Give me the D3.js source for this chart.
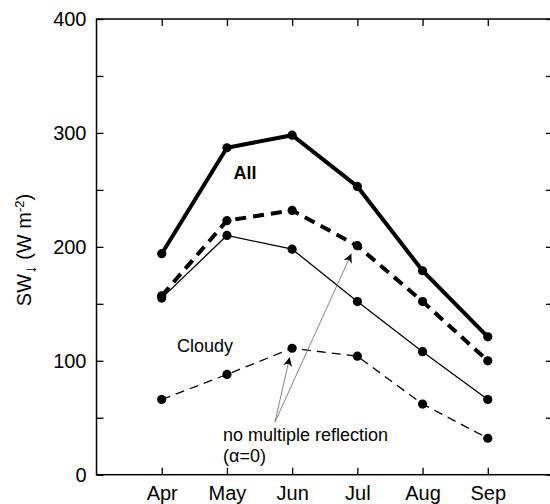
<!DOCTYPE html>
<html><head><meta charset="utf-8">
<script src="https://cdn.jsdelivr.net/npm/d3@7"></script>
<style>body{margin:0;background:#fff}svg{display:block;font-family:"Liberation Sans",Arial,sans-serif}</style>
</head><body>
<svg id="c" width="550" height="504"></svg>
<script>
const months = ["Apr","May","Jun","Jul","Aug","Sep"];
const allSky = [194, 287, 298, 253, 179, 121];
const allSkyNoMR = [157, 223, 232, 201, 152, 100];
const cloudy = [155, 210, 198, 152, 108, 66];
const cloudyNoMR = [66, 88, 111, 104, 62, 32];
const yTicks = [0, 100, 200, 300, 400];
const yMinor = [50, 150, 250, 350];

const svg = d3.select("#c");
const L = 96.5, R = 553, T = 19, B = 474.7;
const x = d3.scaleLinear().domain([0, 7]).range([L, R]);
const y = d3.scaleLinear().domain([0, 400]).range([B, T]);
const xi = (d, i) => x(i + 1);

// frame
svg.append("rect").attr("x", L).attr("y", T).attr("width", R - L).attr("height", B - T)
  .attr("fill", "none").attr("stroke", "#000").attr("stroke-width", 1.5);

const g = svg.append("g");
// axes
const idx = months.map((m, i) => i + 1);
svg.append("g").attr("transform", `translate(${L},0)`)
  .call(d3.axisLeft(y).tickValues(yTicks).tickSizeInner(-7).tickSizeOuter(0).tickPadding(10));
svg.append("g").attr("transform", `translate(${L},0)`)
  .call(d3.axisLeft(y).tickValues(yMinor).tickSizeInner(-7).tickSizeOuter(0).tickFormat(""));
svg.append("g").attr("transform", `translate(${R},0)`)
  .call(d3.axisRight(y).tickValues(yTicks.concat(yMinor)).tickSizeInner(-7).tickSizeOuter(0).tickFormat(""));
svg.append("g").attr("transform", `translate(0,${B})`)
  .call(d3.axisBottom(x).tickValues(idx).tickSizeInner(-7).tickSizeOuter(0).tickPadding(11).tickFormat(i => months[i - 1]));
svg.append("g").attr("transform", `translate(0,${T})`)
  .call(d3.axisTop(x).tickValues(idx).tickSizeInner(-7).tickSizeOuter(0).tickFormat(""));
svg.selectAll(".domain").remove();
svg.selectAll(".tick line").attr("stroke", "#000").attr("stroke-width", 1.3);
svg.selectAll(".tick text").attr("font-size", 20).attr("font-family", "Liberation Sans, Arial, sans-serif").attr("fill", "#000");

// series
const line = d3.line().x(xi).y(d => y(d));
const series = [
  {v: cloudyNoMR, w: 1.3, dash: "9,6"},
  {v: cloudy, w: 1.3, dash: null},
  {v: allSkyNoMR, w: 4, dash: "11,7"},
  {v: allSky, w: 4, dash: null}
];
series.forEach(s => {
  g.append("path").attr("d", line(s.v)).attr("fill", "none").attr("stroke", "#000")
    .attr("stroke-width", s.w).attr("stroke-dasharray", s.dash);
  g.selectAll(null).data(s.v).enter().append("circle")
    .attr("cx", xi).attr("cy", d => y(d)).attr("r", 4.6).attr("fill", "#000");
});

// labels
svg.append("text").attr("x", 245).attr("y", 178.5).attr("text-anchor", "middle")
  .attr("font-size", 18).attr("font-weight", "bold").text("All");
svg.append("text").attr("x", 177).attr("y", 352)
  .attr("font-size", 18).text("Cloudy");
svg.append("text").attr("x", 223).attr("y", 440.5).attr("font-size", 18).text("no multiple reflection");
svg.append("text").attr("x", 223).attr("y", 461.5).attr("font-size", 18).text("(α=0)");

// arrows
const defs = svg.append("defs");
defs.append("marker").attr("id", "ah").attr("viewBox", "0 0 10 10").attr("refX", 10).attr("refY", 5)
  .attr("markerWidth", 9).attr("markerHeight", 9).attr("markerUnits", "userSpaceOnUse").attr("orient", "auto")
  .append("path").attr("d", "M0,0 L10,5 L0,10 L3,5 Z").attr("fill", "#000");
const ox = 275, oy = 422;
svg.append("line").attr("x1", ox).attr("y1", oy).attr("x2", x(3) - 2.5).attr("y2", y(cloudyNoMR[2]) + 9)
  .attr("stroke", "#777").attr("stroke-width", 0.9).attr("marker-end", "url(#ah)");
svg.append("line").attr("x1", ox).attr("y1", oy).attr("x2", x(4) - 6).attr("y2", y(allSkyNoMR[3]) + 8)
  .attr("stroke", "#777").attr("stroke-width", 0.9).attr("marker-end", "url(#ah)");

// y label
const yl = svg.append("text").attr("transform", "translate(31,250) rotate(-90)")
  .attr("text-anchor", "middle").attr("font-size", 20);
yl.append("tspan").text("SW");
yl.append("tspan").attr("dy", 5).attr("font-size", 17).text("↓");
yl.append("tspan").attr("dy", -5).text(" (W m");
yl.append("tspan").attr("dy", -7).attr("font-size", 13).text("-2");
yl.append("tspan").attr("dy", 7).text(")");
</script>
</body></html>
